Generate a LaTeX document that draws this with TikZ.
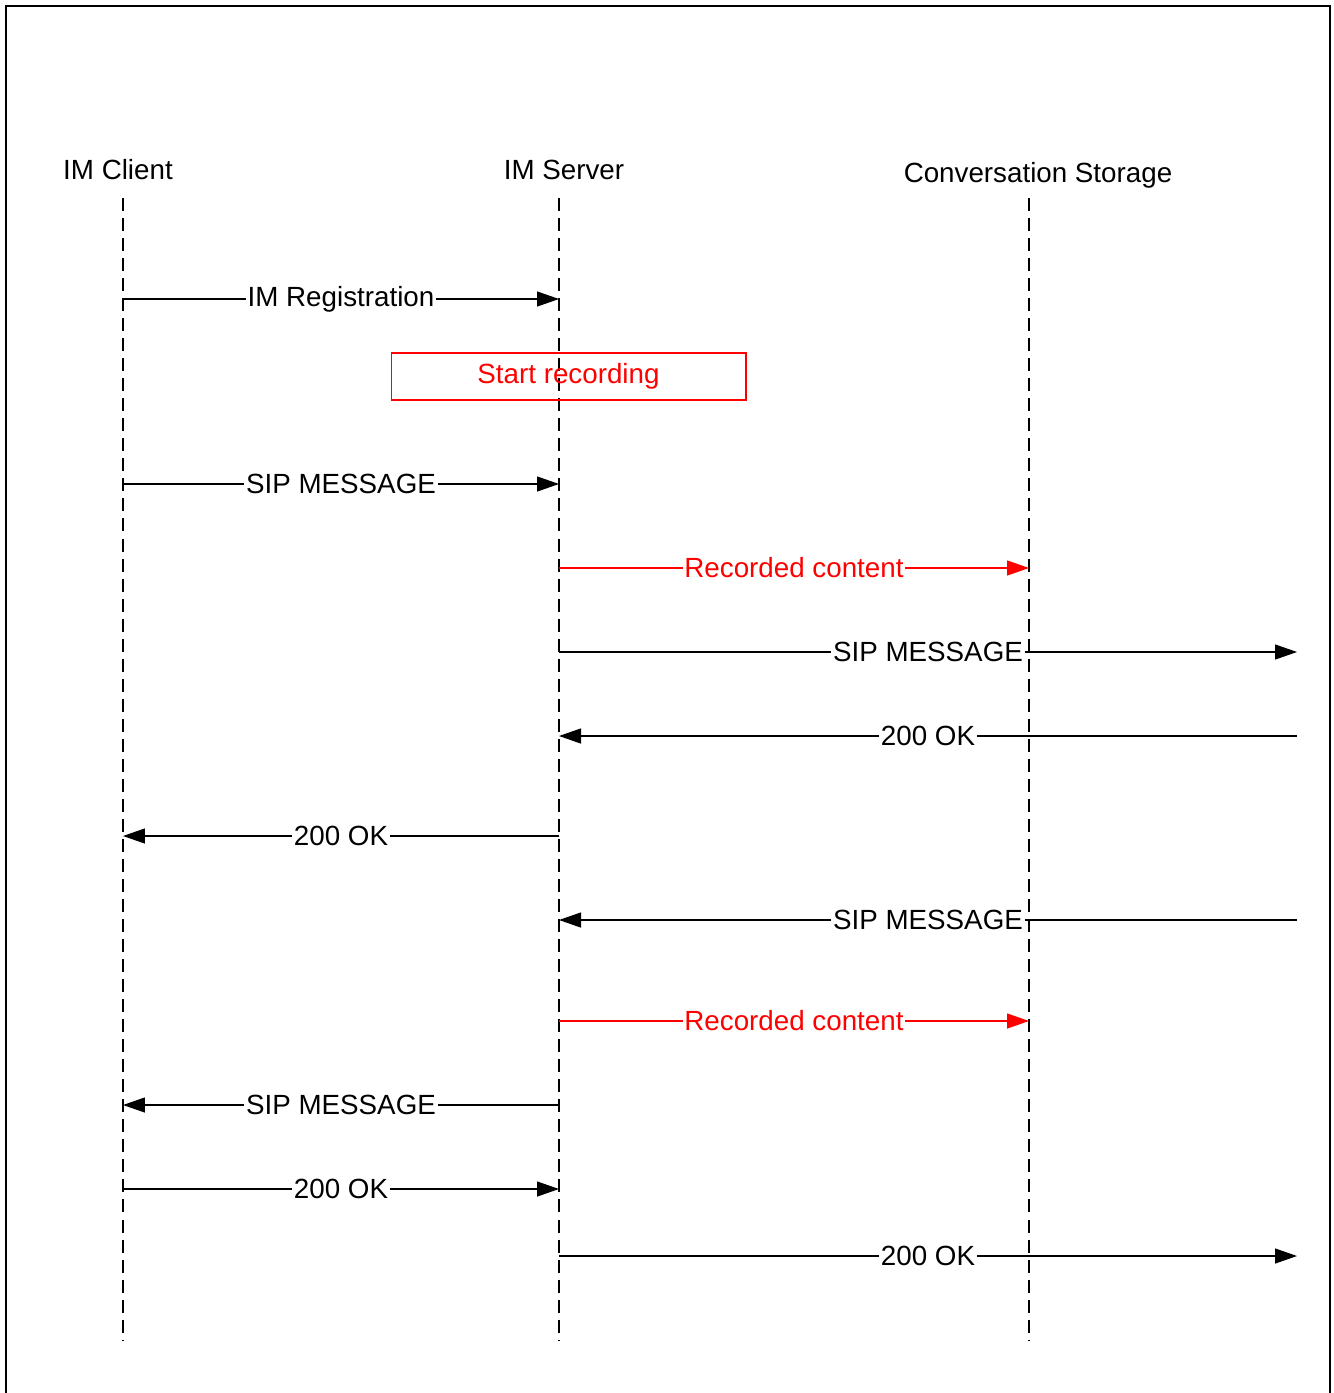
\documentclass[tikz,border=0pt]{standalone}
\usepackage{fontspec}
\setmainfont{Liberation Sans}
\usetikzlibrary{arrows.meta, positioning}
\definecolor{record}{RGB}{255,0,0}

\begin{document}
\begin{tikzpicture}[x=0.02cm, y=-0.02cm, font=\fontsize{15.8}{19}\selectfont]
\tikzstyle{actor} = [inner sep=0pt, anchor=center]
\tikzstyle{life} = [draw, line width=0.7pt, dash pattern=on 7.4pt off 4pt]
\tikzstyle{msg} = [draw, line width=0.7pt, -{Triangle[length=0.44cm, width=0.3cm]}]
\tikzstyle{recmsg} = [msg, draw=record]
\tikzstyle{lbl} = [midway, fill=white, inner sep=1pt]
\tikzstyle{note} = [rectangle, draw=record, line width=0.6pt, text=record,
    minimum width=7.1cm, minimum height=0.94cm]
    % frame
    \useasboundingbox (0,0) rectangle (1333,1393);
    \draw[line width=0.8pt] (6,1430) -- (6,6) -- (1330,6) -- (1330,1430);

    % Place actors
    \node [actor] (client) at (118,170) {IM Client};
    \node [actor] (server) at (564,170) {IM Server};
    \node [actor] (storage) at (1038,175) {Conversation Storage};

    % lifelines
    \coordinate (clientTop) at (123,198);  \coordinate (clientEnd) at (123,1340);
    \coordinate (serverTop) at (559,198);  \coordinate (serverEnd) at (559,1340);
    \coordinate (storageTop) at (1029,198); \coordinate (storageEnd) at (1029,1340);
    \path [life] (clientTop) -- (clientEnd);
    \path [life] (serverTop) -- (serverEnd);
    \path [life] (storageTop) -- (storageEnd);

    % message points
    \coordinate (c1) at (123,299);  \coordinate (s1) at (559,299);
    \coordinate (c2) at (123,484);  \coordinate (s2) at (559,484);
    \coordinate (s3) at (559,568);  \coordinate (t3) at (1029,568);
    \coordinate (s4) at (559,652);  \coordinate (r4) at (1297,652);
    \coordinate (r5) at (1297,736); \coordinate (s5) at (559,736);
    \coordinate (s6) at (559,836);  \coordinate (c6) at (123,836);
    \coordinate (r7) at (1297,920); \coordinate (s7) at (559,920);
    \coordinate (s8) at (559,1021); \coordinate (t8) at (1029,1021);
    \coordinate (s9) at (559,1105); \coordinate (c9) at (123,1105);
    \coordinate (c10) at (123,1189); \coordinate (s10) at (559,1189);
    \coordinate (s11) at (559,1256); \coordinate (r11) at (1297,1256);

    \node [note] (startrec) at (568.5,376.5) {Start recording};

%paths
    \path [msg] (c1) -- node[lbl] {IM Registration} (s1);
    \path [msg] (c2) -- node[lbl] {SIP MESSAGE} (s2);
    \path [recmsg] (s3) -- node[lbl, text=record] {Recorded content} (t3);
    \path [msg] (s4) -- node[lbl] {SIP MESSAGE} (r4);
    \path [msg] (r5) -- node[lbl] {200 OK} (s5);
    \path [msg] (s6) -- node[lbl] {200 OK} (c6);
    \path [msg] (r7) -- node[lbl] {SIP MESSAGE} (s7);
    \path [recmsg] (s8) -- node[lbl, text=record] {Recorded content} (t8);
    \path [msg] (s9) -- node[lbl] {SIP MESSAGE} (c9);
    \path [msg] (c10) -- node[lbl] {200 OK} (s10);
    \path [msg] (s11) -- node[lbl] {200 OK} (r11);

\end{tikzpicture}
\end{document}
